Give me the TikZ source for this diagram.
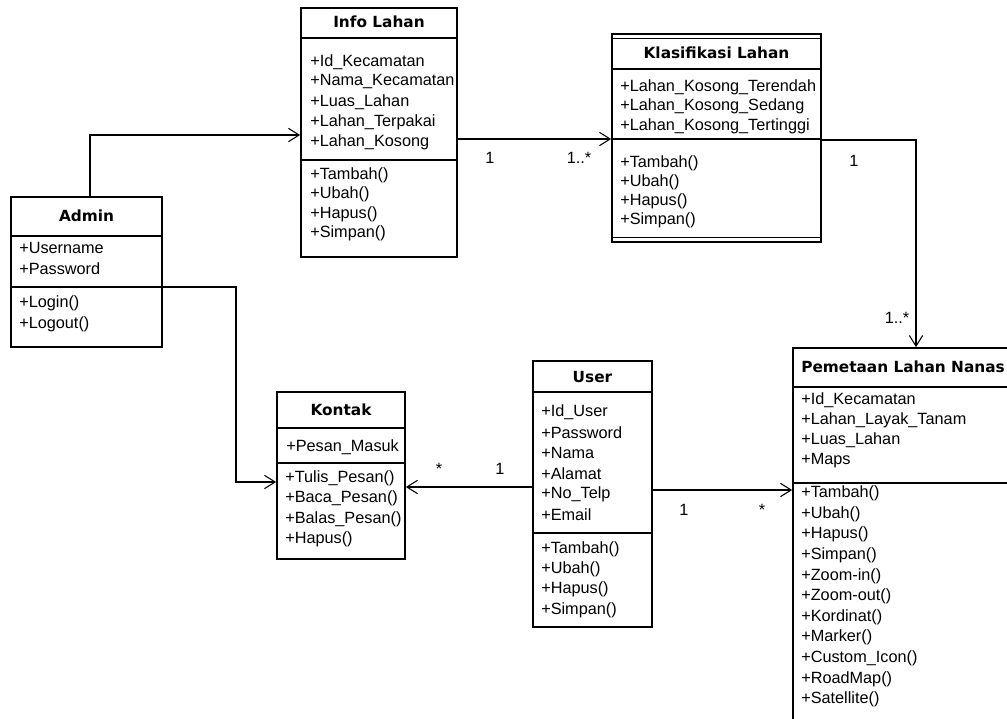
\documentclass[tikz,border=0pt]{standalone}
\usepackage{fontspec}
\setmainfont{Liberation Sans}
\newfontfamily\titlefont{DejaVu Sans}
\usetikzlibrary{arrows.meta,fit}

\tikzset{
  classbox/.style={draw, line width=1.3pt, inner sep=0pt},
  classline/.style={line width=1.3pt},
  classtitle/.style={font=\titlefont\bfseries\fontsize{11.5}{13}\selectfont, inner sep=0pt},
  row/.style={anchor=west, inner sep=0pt},
  mult/.style={inner sep=0pt},
  assoc/.style={draw, line width=0.8pt, -{Straight Barb[length=8pt,width=10pt]}}
}

\begin{document}
\begin{tikzpicture}[x=0.75pt, y=-0.75pt, every node/.style={font=\fontsize{12.2}{14}\selectfont}]
\useasboundingbox (0,0) rectangle (1007,718);
\clip (0,0) rectangle (1007,718);

% Admin
\node[classbox, fit={(11,197) (162,347)}] (admin) {};
\node[classtitle] (admin-t) at (86.5,216) {Admin};
\draw[classline] (admin.west |- 0,236) -- (admin.east |- 0,236);
\draw[classline] (admin.west |- 0,287) -- (admin.east |- 0,287);
\foreach \txt [count=\k from 0] in {+Username,+Password}
  \node[row] (admin-a\k) at (19,{248+21*\k}) {\txt};
\foreach \txt [count=\k from 0] in {+Login(),+Logout()}
  \node[row] (admin-m\k) at (19,{303+21*\k}) {\txt};

% Info Lahan
\node[classbox, fit={(301,8) (457,257)}] (info) {};
\node[classtitle] (info-t) at (379,22) {Info Lahan};
\draw[classline] (info.west |- 0,38) -- (info.east |- 0,38);
\draw[classline] (info.west |- 0,160) -- (info.east |- 0,160);
\foreach \txt [count=\k from 0] in {+Id\_Kecamatan,+Nama\_Kecamatan,+Luas\_Lahan,+Lahan\_Terpakai,+Lahan\_Kosong}
  \node[row] (info-a\k) at (310,{62+20*\k}) {\txt};
\foreach \txt [count=\k from 0] in {+Tambah(),+Ubah(),+Hapus(),+Simpan()}
  \node[row] (info-m\k) at (310,{175+19.5*\k}) {\txt};

% Klasifikasi Lahan
\node[classbox, fit={(612,34) (821,242)}] (klas) {};
\draw[line width=0.8pt] (klas.west |- 0,38.5) -- (klas.east |- 0,38.5);
\draw[line width=0.8pt] (klas.west |- 0,237.5) -- (klas.east |- 0,237.5);
\node[classtitle] (klas-t) at (716.5,53) {Klasifikasi Lahan};
\draw[classline] (klas.west |- 0,69) -- (klas.east |- 0,69);
\draw[classline] (klas.west |- 0,139) -- (klas.east |- 0,139);
\foreach \txt [count=\k from 0] in {+Lahan\_Kosong\_Terendah,+Lahan\_Kosong\_Sedang,+Lahan\_Kosong\_Tertinggi}
  \node[row] (klas-a\k) at (620,{87+19.5*\k}) {\txt};
\foreach \txt [count=\k from 0] in {+Tambah(),+Ubah(),+Hapus(),+Simpan()}
  \node[row] (klas-m\k) at (620,{163+19*\k}) {\txt};

% Kontak
\node[classbox, fit={(277,392) (405,559)}] (kontak) {};
\node[classtitle] (kontak-t) at (341,410) {Kontak};
\draw[classline] (kontak.west |- 0,428) -- (kontak.east |- 0,428);
\draw[classline] (kontak.west |- 0,463) -- (kontak.east |- 0,463);
\node[row] (kontak-a0) at (286,447) {+Pesan\_Masuk};
\foreach \txt [count=\k from 0] in {+Tulis\_Pesan(),+Baca\_Pesan(),+Balas\_Pesan(),+Hapus()}
  \node[row] (kontak-m\k) at (285,{478+20.5*\k}) {\txt};

% User
\node[classbox, fit={(533,361) (652,627)}] (user) {};
\node[classtitle] (user-t) at (592.5,377) {User};
\draw[classline] (user.west |- 0,392) -- (user.east |- 0,392);
\draw[classline] (user.west |- 0,533) -- (user.east |- 0,533);
\foreach \txt [count=\k from 0] in {+Id\_User,+Password,+Nama,+Alamat,+No\_Telp,+Email}
  \node[row] (user-a\k) at (541,{412+20.5*\k}) {\txt};
\foreach \txt [count=\k from 0] in {+Tambah(),+Ubah(),+Hapus(),+Simpan()}
  \node[row] (user-m\k) at (541,{549+20.3*\k}) {\txt};

% Pemetaan Lahan Nanas (runs past the page edge)
\node[classbox, fit={(793,348) (1012,724)}] (pem) {};
\node[classtitle, anchor=west] (pem-t) at (801,367) {Pemetaan Lahan Nanas};
\draw[classline] (pem.west |- 0,387) -- (pem.east |- 0,387);
\draw[classline] (pem.west |- 0,483) -- (pem.east |- 0,483);
\foreach \txt [count=\k from 0] in {+Id\_Kecamatan,+Lahan\_Layak\_Tanam,+Luas\_Lahan,+Maps}
  \node[row] (pem-a\k) at (801,{400+20.3*\k}) {\txt};
\foreach \txt [count=\k from 0] in {+Tambah(),+Ubah(),+Hapus(),+Simpan(),+Zoom-in(),+Zoom-out(),+Kordinat(),+Marker(),+Custom\_Icon(),+RoadMap(),+Satellite()}
  \node[row] (pem-m\k) at (801,{493.5+20.6*\k}) {\txt};

% associations
\coordinate (admin-bend) at (236,482);
\draw[assoc] (admin.north -| 90,0) |- (info.west |- 0,135);
\draw[assoc] (admin.east |- 0,287) -| (admin-bend) -- (kontak.west |- admin-bend);
\draw[assoc] (info.east |- 0,139) -- (klas.west |- 0,139);
\draw[assoc] (klas.east |- 0,140) -| (pem.north -| 916,0);
\draw[assoc] (user.west |- 0,487) -- (kontak.east |- 0,487);
\draw[assoc] (user.east |- 0,490) -- (pem.west |- 0,490);

% multiplicities
\node[mult] (m-info) at (490,158) {1};
\node[mult] (m-klas-l) at (579,158) {1..*};
\node[mult] (m-klas-r) at (854,161) {1};
\node[mult] (m-pem-t) at (897,318) {1..*};
\node[mult] (m-kontak) at (439,469) {*};
\node[mult] (m-user-l) at (500,469) {1};
\node[mult] (m-user-r) at (684,510) {1};
\node[mult] (m-pem-l) at (762,510) {*};
\end{tikzpicture}
\end{document}
